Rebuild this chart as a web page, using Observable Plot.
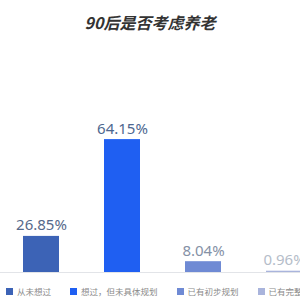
<!DOCTYPE html>
<html>
<head>
<meta charset="utf-8">
<script src="https://cdn.jsdelivr.net/npm/d3@7"></script>
<script src="https://cdn.jsdelivr.net/npm/@observablehq/plot@0.6"></script>
<style>
  html, body { margin: 0; padding: 0; background: #fff; width: 300px; height: 300px; overflow: hidden; }
  #title { height: 44px; line-height: 44px; text-align: center; font-family: "Noto Sans CJK SC", sans-serif; font-weight: bold; font-style: italic; font-size: 16px; color: #333; }
  #legend { display: flex; white-space: nowrap; overflow: hidden; height: 18px; align-items: center; padding-left: 6px; font-family: "Noto Sans CJK SC", sans-serif; font-size: 8.5px; color: #8a8a8a; }
  #legend .item { display: flex; align-items: center; margin-right: 19px; flex-shrink: 0; }
  #legend .sw { width: 7px; height: 7px; margin-right: 4px; }
</style>
</head>
<body>
<div id="title">90后是否考虑养老</div>
<div id="chart"></div>
<div id="legend"></div>
<script>
const categories = ["从未想过", "想过，但未具体规划", "已有初步规划", "已有完整规划"];
const values = [26.85, 64.15, 8.04, 0.96];
const labels = ["26.85%", "64.15%", "8.04%", "0.96%"];
const barColors = ["#3c63b6", "#1f5ff2", "#6f8ad4", "#a9b4dc"];
const labelColors = ["#56698a", "#4d6790", "#8591a6", "#b5bdc9"];

const data = categories.map((c, i) => ({category: c, value: values[i], label: labels[i]}));

const chart = Plot.plot({
  width: 300,
  height: 238,
  marginLeft: 0,
  marginRight: 0,
  marginTop: 0,
  marginBottom: 10,
  x: {type: "band", domain: categories, range: [0, 326], paddingInner: 0.55, paddingOuter: 0.28, axis: null},
  y: {type: "linear", domain: [0, 27, 70], range: [228, 191.7, 79.9], axis: null},
  color: {domain: categories, range: barColors},
  style: {fontFamily: "'Noto Sans', sans-serif", overflow: "visible"},
  marks: [
    Plot.ruleY([0], {stroke: "#e2e4e8", strokeWidth: 1}),
    Plot.barY(data, {x: "category", y: "value", fill: "category"}),
    ...data.map((d, i) => Plot.text([d], {
      x: "category", y: "value", text: "label",
      fill: labelColors[i], fontSize: 15, lineAnchor: "bottom", dy: -6
    }))
  ]
});
document.getElementById("chart").appendChild(chart);

const legend = document.getElementById("legend");
categories.forEach((c, i) => {
  const item = document.createElement("div");
  item.className = "item";
  const sw = document.createElement("div");
  sw.className = "sw";
  sw.style.background = barColors[i];
  const t = document.createElement("span");
  t.textContent = c;
  item.appendChild(sw);
  item.appendChild(t);
  legend.appendChild(item);
});
</script>
</body>
</html>
